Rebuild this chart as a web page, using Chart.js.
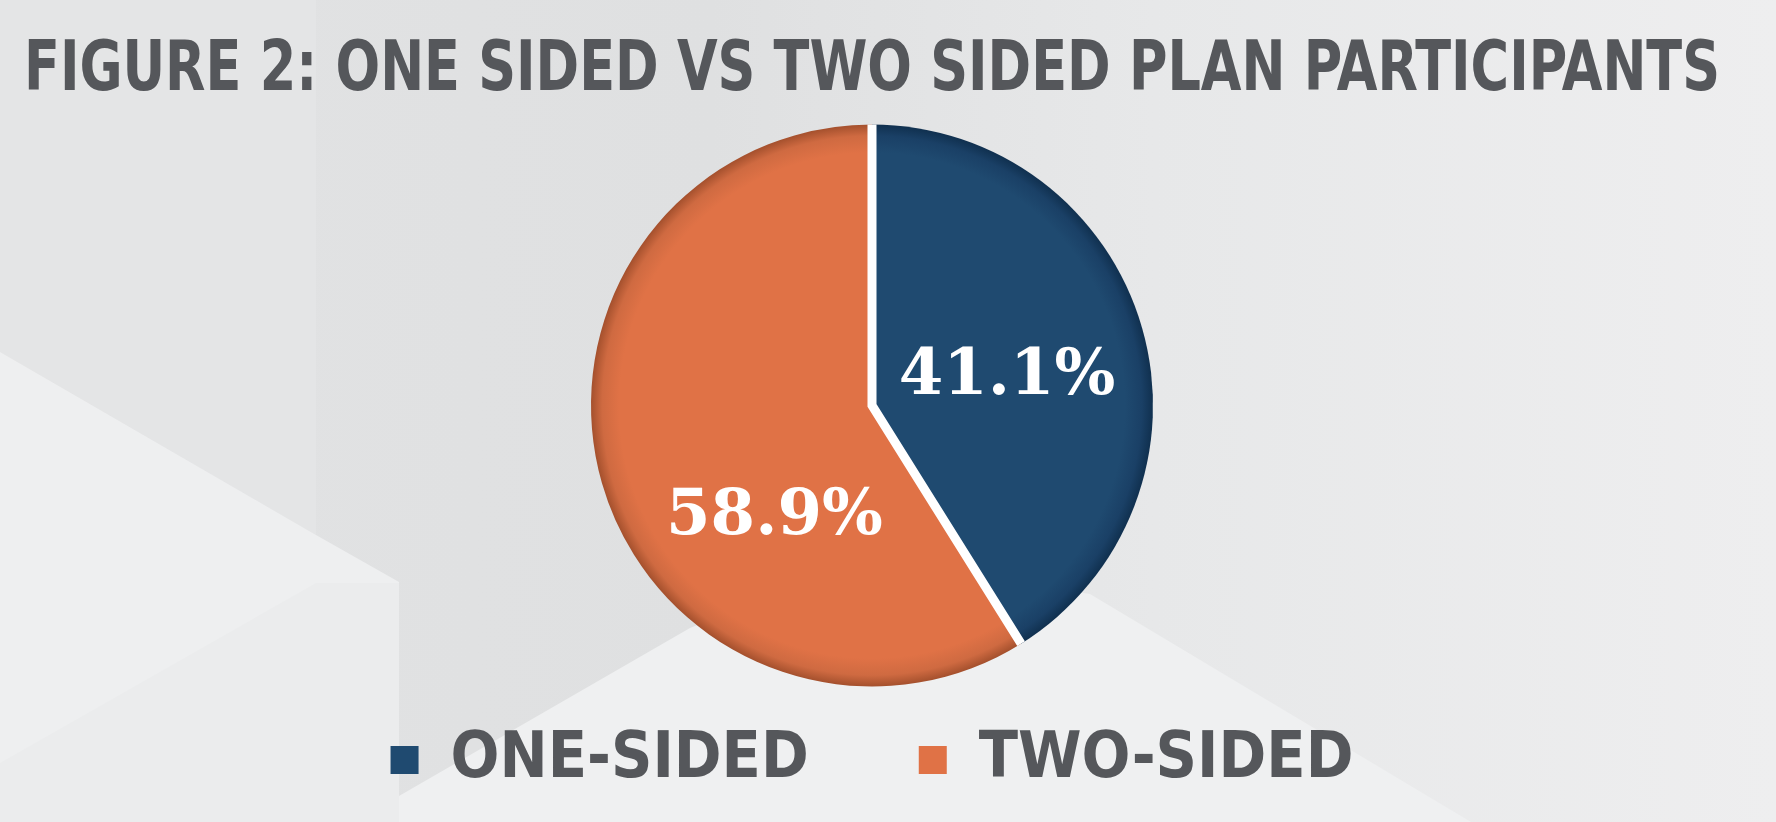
<!DOCTYPE html>
<html lang="en">
<head>
    <meta charset="UTF-8">
    <title>Figure 2: One Sided vs Two Sided Plan Participants</title>
    <script src="https://cdn.jsdelivr.net/npm/chart.js"></script>
    <style>
        html, body {
            margin: 0;
            padding: 0;
            width: 1776px;
            height: 822px;
            overflow: hidden;
        }
        body {
            background: linear-gradient(to right, #e2e3e4 0%, #dfe0e1 40%, #e7e8e9 65%, #eeeeef 100%);
            position: relative;
        }
        .backdrop {
            position: absolute;
            left: 0;
            top: 0;
        }
        .chart-box {
            position: absolute;
            left: 0;
            top: 0;
            width: 1776px;
            height: 822px;
        }
    </style>
</head>
<body>
    <!-- light geometric shapes behind the chart -->
    <svg class="backdrop" width="1776" height="822">
        <polygon points="0,0 316,0 316,535 0,352" fill="#e4e5e6"/>
        <polygon points="0,352 316,535 399,582 399,822 0,822" fill="#eeeff0"/>
        <polygon points="0,763 316,583 399,583 399,822 0,822" fill="#ebeced"/>
        <polygon points="399,822 399,796 690,628 860,560 1090,594 1471,822" fill="#eff0f1"/>
    </svg>
    <div class="chart-box">
        <canvas id="pieChart"></canvas>
    </div>
    <script>
        // data
        const titleText = 'FIGURE 2: ONE SIDED VS TWO SIDED PLAN PARTICIPANTS';
        const categories = ['ONE-SIDED', 'TWO-SIDED'];
        const shares = [41.1, 58.9];

        // look
        const sliceColors = ['#1f4a70', '#e07246'];
        const midRimColors = ['#1a4066', '#cf6a41'];
        const rimColors = ['#10304f', '#a4502d'];
        const textGray = '#55575b';
        const pieRadius = 281;
        const narrowFont = "'Liberation Sans Narrow', 'DejaVu Sans Condensed', 'Arial Narrow', sans-serif";

        // white cut lines between slices
        const sliceEdges = {
            id: 'sliceEdges',
            afterDatasetsDraw(chart, args, opts) {
                const arcs = chart.getDatasetMeta(0).data;
                if (!arcs.length) return;
                const ctx = chart.ctx;
                const c = arcs[0].getProps(['x', 'y']);
                const pts = arcs.map(a => {
                    const p = a.getProps(['x', 'y', 'startAngle', 'outerRadius']);
                    return [p.x + Math.cos(p.startAngle) * p.outerRadius, p.y + Math.sin(p.startAngle) * p.outerRadius];
                });
                ctx.save();
                ctx.strokeStyle = opts.color;
                ctx.lineWidth = opts.width;
                ctx.lineJoin = 'miter';
                ctx.beginPath();
                ctx.moveTo(pts[0][0], pts[0][1]);
                pts.slice(1).forEach(p => {
                    ctx.lineTo(c.x, c.y);
                    ctx.lineTo(p[0], p[1]);
                });
                ctx.stroke();
                ctx.restore();
            }
        };

        // percentage labels inside slices
        const sliceLabels = {
            id: 'sliceLabels',
            afterDatasetsDraw(chart, args, opts) {
                const ctx = chart.ctx;
                const values = chart.data.datasets[0].data;
                ctx.save();
                ctx.font = opts.font;
                ctx.fillStyle = opts.color;
                ctx.textAlign = 'center';
                ctx.textBaseline = 'middle';
                chart.getDatasetMeta(0).data.forEach((arc, i) => {
                    const p = arc.getProps(['x', 'y', 'startAngle', 'endAngle', 'outerRadius']);
                    const mid = (p.startAngle + p.endAngle) / 2 + (opts.angleShift[i] || 0) * Math.PI / 180;
                    const r = p.outerRadius * opts.radius;
                    ctx.fillText(values[i].toFixed(1) + '%', p.x + Math.cos(mid) * r, p.y + Math.sin(mid) * r + opts.yShift);
                });
                ctx.restore();
            }
        };

        function sliceFill(context) {
            const i = context.dataIndex;
            const area = context.chart.chartArea;
            if (!area) return sliceColors[i];
            const cx = (area.left + area.right) / 2;
            const cy = (area.top + area.bottom) / 2;
            const g = context.chart.ctx.createRadialGradient(cx, cy, 0, cx, cy, pieRadius);
            g.addColorStop(0, sliceColors[i]);
            g.addColorStop(0.9, sliceColors[i]);
            g.addColorStop(0.96, midRimColors[i]);
            g.addColorStop(1, rimColors[i]);
            return g;
        }

        const ctx = document.getElementById('pieChart').getContext('2d');
        const chart = new Chart(ctx, {
            type: 'pie',
            data: {
                labels: categories,
                datasets: [{
                    data: shares,
                    backgroundColor: sliceFill,
                    borderWidth: 0,
                    radius: pieRadius,
                    clip: false,
                    hoverOffset: 0
                }]
            },
            plugins: [sliceEdges, sliceLabels],
            options: {
                responsive: true,
                maintainAspectRatio: false,
                animation: false,
                events: [],
                layout: {
                    padding: { top: 0, right: 56, bottom: 20, left: 24 }
                },
                plugins: {
                    tooltip: { enabled: false },
                    title: {
                        display: true,
                        text: titleText,
                        align: 'center',
                        color: textGray,
                        font: { family: narrowFont, size: 70, weight: 'bold' },
                        padding: { top: 30, bottom: 79 }
                    },
                    legend: {
                        position: 'bottom',
                        labels: {
                            boxWidth: 28,
                            boxHeight: 28,
                            padding: 110,
                            color: textGray,
                            font: { family: narrowFont, size: 64, weight: 'bold' },
                            generateLabels: () => categories.map((c, i) => ({
                                text: c,
                                fillStyle: sliceColors[i],
                                strokeStyle: sliceColors[i],
                                lineWidth: 0,
                                fontColor: textGray,
                                hidden: false,
                                index: i
                            }))
                        }
                    },
                    sliceEdges: { color: '#ffffff', width: 9 },
                    sliceLabels: {
                        font: "bold 64px 'DejaVu Serif', 'Liberation Serif', serif",
                        color: '#ffffff',
                        radius: 0.5,
                        angleShift: [0, -30],
                        yShift: 11
                    }
                }
            }
        });
    </script>
</body>
</html>
